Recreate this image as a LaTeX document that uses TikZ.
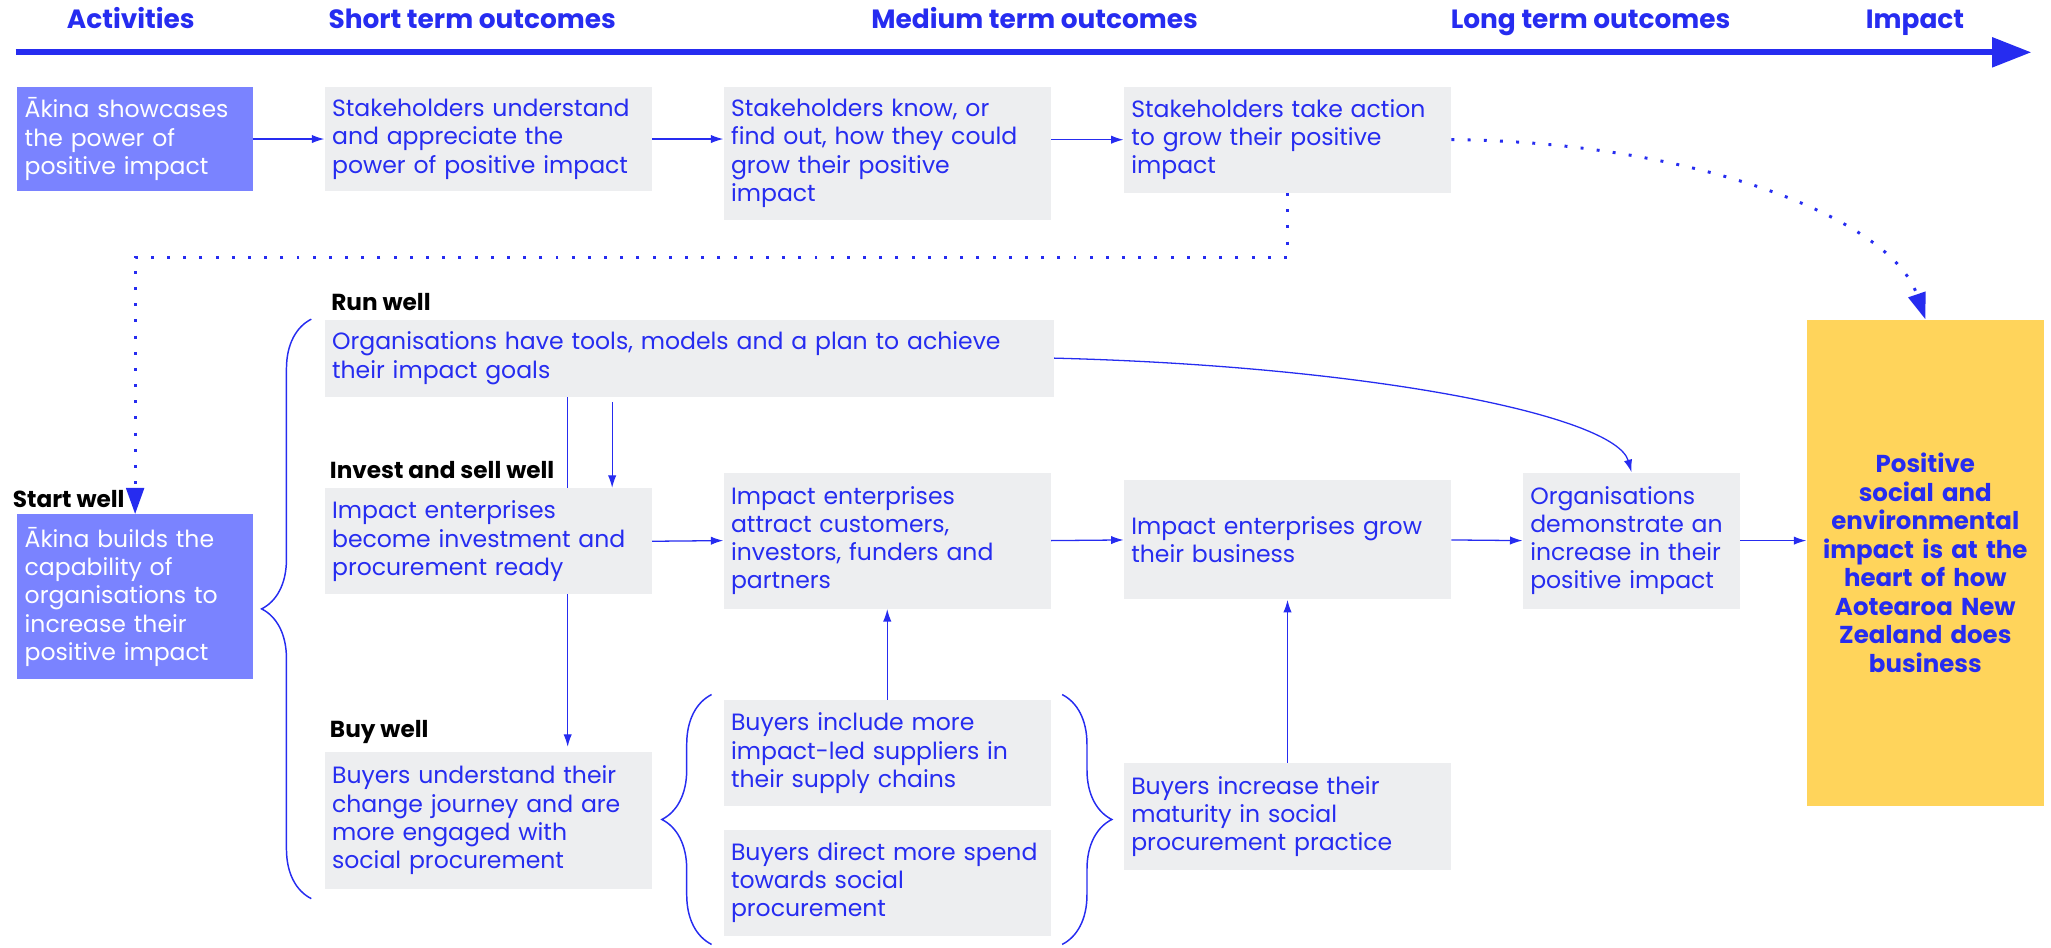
\documentclass[tikz,border=0pt]{standalone}
\usepackage{fontspec}
\setmainfont{Poppins}
\usetikzlibrary{arrows.meta}
\usetikzlibrary{calc}
\usetikzlibrary{backgrounds}
\usetikzlibrary{decorations.pathreplacing}
\usepackage{xcolor}
\hyphenpenalty=10000
\exhyphenpenalty=10000

\definecolor{akblue}{RGB}{38,44,240}
\definecolor{akpurple}{RGB}{122,131,255}
\definecolor{akgrey}{RGB}{237,238,240}
\definecolor{akyellow}{RGB}{255,212,91}

\tikzset{
    body/.style={font=\fontsize{12.8}{15.4}\selectfont},
    outcome/.style={body, fill=akgrey, text=akblue, align=left, anchor=north west, inner xsep=0.14cm, inner ysep=0pt, text width=5.97cm},
    activity/.style={outcome, fill=akpurple, text=white, text width=4.22cm},
    goalbox/.style={fill=akyellow, text=akblue, align=center, anchor=north west, inner xsep=0.1cm, inner ysep=0pt, text width=4.33cm, font=\fontsize{13.3}{15.5}\selectfont\bfseries},
    heading/.style={anchor=base, text=akblue, font=\fontsize{14.35}{17}\selectfont\bfseries},
    strand/.style={anchor=base west, inner sep=0pt, font=\fontsize{12.6}{15}\selectfont\bfseries},
    flow/.style={akblue, line width=0.7pt, -{Latex[length=2.4mm,width=1.6mm]}},
    dotflow/.style={akblue, line width=1.6pt, dash pattern=on 1.6pt off 7.2pt, -{Triangle[length=5mm,width=3.4mm]}},
    curly/.style={akblue, line width=0.8pt, decorate, decoration={brace, amplitude=0.95cm}},
}

\begin{document}
\begin{tikzpicture}[x=0.025cm, y=-0.025cm]
    \useasboundingbox (0,0) rectangle (1568,724);

    \coordinate (tl0) at (12,40);
    \coordinate (tl1) at (1553,40);
    \draw[akblue, line width=3.3pt, -{Triangle[length=0.75cm,width=0.55cm]}] (tl0) -- (tl1);

    \node[heading] (hact) at (100,21.5) {Activities};
    \node[heading] (hshort) at (361,21.5) {Short term outcomes};
    \node[heading] (hmed) at (791,21.5) {Medium term outcomes};
    \node[heading] (hlong) at (1216,21.5) {Long term outcomes};
    \node[heading] (himp) at (1464,21.5) {Impact};

    \node[activity, minimum height=2cm] (act1) at (13,66) {Ākina showcases\\the power of\\positive impact};
    \node[outcome, minimum height=2cm] (s1) at (248,66) {Stakeholders understand\\and appreciate the\\power of positive impact};
    \node[outcome, minimum height=2.55cm] (m1) at (553,66) {Stakeholders know, or\\find out, how they could\\grow their positive\\impact};
    \node[outcome, minimum height=2.025cm] (l1) at (859,66) {Stakeholders take action\\to grow their positive\\impact};

    \node[strand] (start) at (9.6,388) {Start well};
    \node[activity, minimum height=3.15cm] (act2) at (13,393) {Ākina builds the\\capability of\\organisations to\\increase their\\positive impact};

    \node[strand] (run) at (253,237) {Run well};
    \node[outcome, text width=13.65cm, minimum height=1.475cm] (r1) at (248,244) {Organisations have tools, models and a plan to achieve\\their impact goals};
    \node[strand] (invest) at (252,366) {Invest and sell well};
    \node[outcome, minimum height=2.025cm] (i1) at (248,373) {Impact enterprises\\become investment and\\procurement ready};
    \node[strand] (buy) at (252,564) {Buy well};
    \node[outcome, minimum height=2.6cm] (b1) at (248,575) {Buyers understand their\\change journey and are\\more engaged with\\social procurement};

    \node[outcome, minimum height=2.6cm] (i2) at (553,361) {Impact enterprises\\attract customers,\\investors, funders and\\partners};
    \node[outcome, minimum height=2.025cm] (bi) at (553,535) {Buyers include more\\impact-led suppliers in\\their supply chains};
    \node[outcome, minimum height=2.025cm] (bd) at (553,634) {Buyers direct more spend\\towards social\\procurement};

    \node[outcome, minimum height=2.275cm] (i3) at (859,367) {Impact enterprises grow\\their business};
    \node[outcome, minimum height=2.05cm] (bm) at (859,583) {Buyers increase their\\maturity in social\\procurement practice};

    \node[outcome, text width=3.87cm, minimum height=2.6cm] (o1) at (1164,361) {Organisations\\demonstrate an\\increase in their\\positive impact};

    \node[goalbox, minimum height=9.3cm] (goal) at (1381,244) {Positive\\social and\\environmental\\impact is at the\\heart of how\\Aotearoa New\\Zealand does\\business};

    \draw[flow] (act1) -- (s1);
    \draw[flow] (s1.east) -- (s1.east -| m1.west);
    \draw[flow] (l1.west -| m1.east) -- (l1.west);

    \draw[dotflow] (l1.south) -- ++(0,49) -| (act2.north);
    \draw[dotflow] (l1.east) .. controls (1290,108) and (1445,165) .. (goal.north);

    \draw[flow] ($(r1.south west)+(220,4)$) -- ($(i1.north west)+(220,0)$);
    \begin{scope}[on background layer]
        \draw[flow] ($(r1.south west)+(186,0)$) -- ($(b1.north west)+(186,-4)$);
    \end{scope}
    \draw[flow] (r1.east) .. controls (1050,280) and (1235,318) .. (o1.north);

    \draw[flow] (i1.east) -- (i2.west);
    \draw[flow] (i2.east) -- (i3.west);
    \draw[flow] (i3.east) -- (o1.west);
    \draw[flow] (o1.east) -- (o1.east -| goal.west);
    \draw[flow] (bi.north) -- (i2.south);
    \draw[flow] (bm.north) -- (i3.south);

    \draw[curly] (238,687) -- (238,244);
    \draw[curly] (544,722) -- (544,531);
    \draw[curly] (812,531) -- (812,722);
\end{tikzpicture}
\end{document}
